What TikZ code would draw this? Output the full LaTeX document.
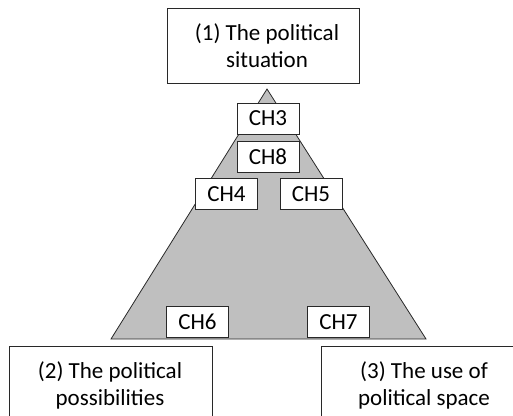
\documentclass[tikz,border=0pt]{standalone}
\usepackage{fontspec}
\setmainfont{Carlito}
\definecolor{trigray}{RGB}{191,191,191}
\definecolor{linec}{RGB}{40,40,40}
\begin{document}
\begin{tikzpicture}[x=1pt,y=-1pt,
  every node/.style={font=\fontsize{23}{27}\selectfont, text=black},
  bigbox/.style={draw=linec, line width=0.9pt, fill=white, inner sep=0pt},
  chbox/.style={draw=linec, line width=0.9pt, fill=white, minimum width=62pt, minimum height=31pt, inner sep=0pt},
  txt/.style={align=center, inner sep=0pt}]
\useasboundingbox (0,0) rectangle (513,415);
\clip (0,0) rectangle (513,415);
% pyramid
\coordinate (apex) at (267,89);
\coordinate (bl) at (111,339);
\coordinate (br) at (426,339);
\draw[fill=trigray, draw=linec, line width=0.8pt] (apex) -- (br) -- (bl) -- cycle;
% top box
\node[bigbox, minimum width=192pt, minimum height=75pt] (top) at (263,45.5) {};
\node[txt] (ttop) at (267,46) {(1) The political\\situation};
% bottom boxes
\node[bigbox, anchor=north west, minimum width=203pt, minimum height=120pt] (left) at (9,346) {};
\node[txt] (tleft) at (110,385) {(2) The political\\possibilities};
\node[bigbox, anchor=north west, minimum width=220pt, minimum height=120pt] (right) at (321,346) {};
\node[txt] (tright) at (424,385) {(3) The use of\\political space};
% chapter boxes
\node[chbox] (ch3) at (268,118.5) {CH3};
\node[chbox] (ch8) at (268,156.5) {CH8};
\node[chbox] (ch4) at (226.5,194) {CH4};
\node[chbox] (ch5) at (311,194) {CH5};
\node[chbox] (ch6) at (197.5,322) {CH6};
\node[chbox] (ch7) at (338.5,322) {CH7};
\end{tikzpicture}
\end{document}
